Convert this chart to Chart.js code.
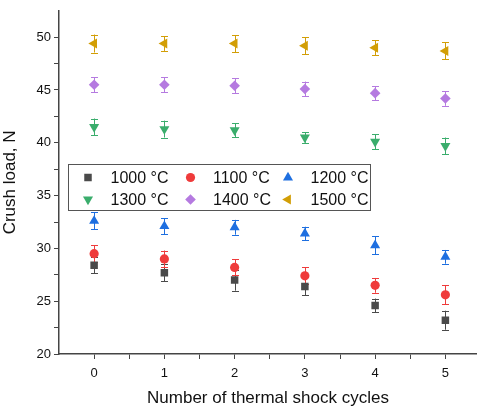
<!DOCTYPE html>
<html>
<head>
<meta charset="utf-8">
<script src="https://cdn.jsdelivr.net/npm/chart.js@4/dist/chart.umd.min.js"></script>
<style>
  html, body { margin: 0; padding: 0; background: #fff; }
  #wrap { width: 477px; height: 407px; }
</style>
</head>
<body>
<div id="wrap"><canvas id="chart" width="477" height="407"></canvas></div>
<script>
// data
const cycles = [0, 1, 2, 3, 4, 5];
const tempLabels = ['1000 °C', '1100 °C', '1200 °C', '1300 °C', '1400 °C', '1500 °C'];

const load1000 = [28.4, 27.7, 27.0, 26.4, 24.6, 23.2];
const err1000  = [0.75, 0.8, 1.0, 0.85, 0.65, 0.9];
const load1100 = [29.5, 29.0, 28.2, 27.4, 26.5, 25.6];
const err1100  = [0.8, 0.8, 0.75, 0.8, 0.7, 0.9];
const load1200 = [32.6, 32.1, 32.0, 31.4, 30.3, 29.2];
const err1200  = [0.8, 0.75, 0.7, 0.65, 0.85, 0.65];
const load1300 = [41.5, 41.3, 41.2, 40.5, 40.1, 39.7];
const err1300  = [0.8, 0.8, 0.65, 0.5, 0.7, 0.8];
const load1400 = [45.5, 45.5, 45.4, 45.1, 44.7, 44.2];
const err1400  = [0.7, 0.7, 0.7, 0.7, 0.65, 0.7];
const load1500 = [49.4, 49.4, 49.4, 49.2, 49.0, 48.7];
const err1500  = [0.85, 0.7, 0.8, 0.8, 0.7, 0.8];

const yTickLabels = [20, 25, 30, 35, 40, 45, 50];

const FONT = "'Liberation Sans', Arial, sans-serif";

const seriesStyle = [
  { color: '#4a4a4a', style: 'rect', rot: 0, r: 5.3 },
  { color: '#ef3b3b', style: 'circle', rot: 0, r: 4.6 },
  { color: '#1e6fe0', style: 'triangle', rot: 0, r: 5.8 },
  { color: '#3aad6c', style: 'triangle', rot: 180, r: 5.8 },
  { color: '#b57ae0', style: 'rectRot', rot: 0, r: 5.3 },
  { color: '#d29e06', style: 'triangle', rot: -90, r: 5.8 }
];

const allLoads = [load1000, load1100, load1200, load1300, load1400, load1500];
const allErrs = [err1000, err1100, err1200, err1300, err1400, err1500];

const datasets = allLoads.map((vals, i) => ({
  label: tempLabels[i],
  data: cycles.map((c, j) => ({ x: c, y: vals[j] })),
  errors: allErrs[i],
  backgroundColor: seriesStyle[i].color,
  borderColor: seriesStyle[i].color,
  borderWidth: 0,
  pointStyle: seriesStyle[i].style,
  rotation: seriesStyle[i].rot,
  pointRadius: seriesStyle[i].r,
  pointHoverRadius: seriesStyle[i].r,
  showLine: false
}));

// error bars drawn from the scales
const errorBars = {
  id: 'errorBars',
  beforeDatasetsDraw(chart) {
    const { ctx, scales: { x, y } } = chart;
    ctx.save();
    ctx.lineWidth = 1;
    chart.data.datasets.forEach((ds) => {
      ctx.strokeStyle = ds.borderColor;
      ds.data.forEach((p, j) => {
        const px = Math.round(x.getPixelForValue(p.x)) + 0.5;
        const top = y.getPixelForValue(p.y + ds.errors[j]);
        const bot = y.getPixelForValue(p.y - ds.errors[j]);
        ctx.beginPath();
        ctx.moveTo(px, top); ctx.lineTo(px, bot);
        ctx.moveTo(px - 3.5, Math.round(top) + 0.5); ctx.lineTo(px + 3.5, Math.round(top) + 0.5);
        ctx.moveTo(px - 3.5, Math.round(bot) + 0.5); ctx.lineTo(px + 3.5, Math.round(bot) + 0.5);
        ctx.stroke();
      });
    });
    ctx.restore();
  }
};

// boxed legend inside the plot
const boxLegend = {
  id: 'boxLegend',
  afterDraw(chart) {
    const { ctx } = chart;
    const bx = 68.5, by = 164.5, bw = 302, bh = 46;
    ctx.save();
    ctx.strokeStyle = '#555';
    ctx.lineWidth = 1;
    ctx.strokeRect(bx, by, bw, bh);
    ctx.font = '16px ' + FONT;
    ctx.textBaseline = 'middle';
    const colMarker = [88, 190.5, 288];
    const colText = [110.5, 213, 310.5];
    const rowY = [177.5, 199.5];
    chart.data.datasets.forEach((ds, i) => {
      const col = i % 3, row = Math.floor(i / 3);
      const s = seriesStyle[i];
      ctx.fillStyle = s.color;
      Chart.helpers.drawPoint(ctx, {
        pointStyle: s.style, rotation: s.rot, radius: s.r, borderWidth: 0
      }, colMarker[col], rowY[row]);
      ctx.fillStyle = '#111';
      ctx.fillText(ds.label, colText[col], rowY[row] + 1);
    });
    ctx.restore();
  }
};

new Chart(document.getElementById('chart'), {
  type: 'scatter',
  data: { datasets },
  plugins: [errorBars, boxLegend],
  options: {
    responsive: false,
    animation: false,
    layout: { autoPadding: false, padding: { top: 10, right: 0, left: 0, bottom: 0 } },
    plugins: { legend: { display: false }, tooltip: { enabled: false } },
    scales: {
      x: {
        type: 'linear',
        min: -0.5,
        max: 5.45,
        afterFit(scale) {
          scale.height = 53;
          scale.paddingRight = 0;
          scale.paddingLeft = 0;
        },
        ticks: {
          stepSize: 0.5,
          includeBounds: false,
          autoSkip: false,
          maxRotation: 0,
          padding: 7,
          color: '#111',
          font: { family: FONT, size: 13 },
          callback: (v) => (Number.isInteger(v) && cycles.includes(v) ? String(v) : '')
        },
        grid: {
          drawOnChartArea: false,
          drawTicks: true,
          tickLength: 5,
          tickColor: (c) => (c.tick && (c.tick.value < -0.4 || c.tick.value > 5.4) ? 'rgba(0,0,0,0)' : '#444')
        },
        border: { color: '#444', width: 1.5 },
        title: {
          display: true,
          text: 'Number of thermal shock cycles',
          color: '#111',
          font: { family: FONT, size: 17, lineHeight: 1.05 },
          padding: { top: 4, bottom: 0 }
        }
      },
      y: {
        min: 20,
        max: 52.5,
        afterFit(scale) { scale.width = 59; },
        ticks: {
          stepSize: 2.5,
          autoSkip: false,
          padding: 3,
          color: '#111',
          font: { family: FONT, size: 13 },
          callback: (v) => (yTickLabels.includes(v) ? String(v) : '')
        },
        grid: {
          drawOnChartArea: false,
          drawTicks: true,
          tickLength: 5,
          tickColor: (c) => (c.tick && c.tick.value === 52.5 ? 'rgba(0,0,0,0)' : '#444')
        },
        border: { color: '#444', width: 1.5 },
        title: {
          display: true,
          text: 'Crush load, N',
          color: '#111',
          font: { family: FONT, size: 17 },
          padding: { top: 0, bottom: 4 }
        }
      }
    }
  }
});
</script>
</body>
</html>
